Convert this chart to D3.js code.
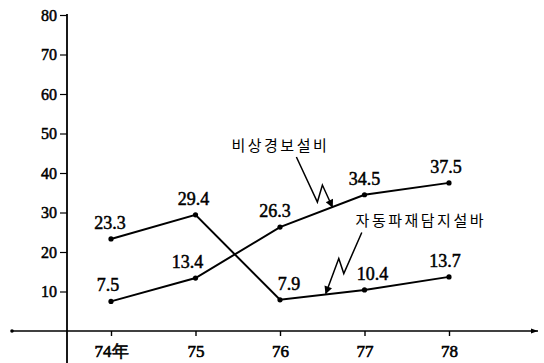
<!DOCTYPE html>
<html>
<head>
<meta charset="utf-8">
<script src="https://cdn.jsdelivr.net/npm/d3@7/dist/d3.min.js"></script>
<style>
  html, body { margin: 0; padding: 0; background: #fff; }
  svg { display: block; }
</style>
</head>
<body>
<svg id="chart" width="544" height="363"></svg>
<script>
// ---- data ----
const years = ["74年", "75", "76", "77", "78"];
const alarmValues = [7.5, 13.4, 26.3, 34.5, 37.5];      // 비상경보설비
const detectValues = [23.3, 29.4, 7.9, 10.4, 13.7];     // 자동화재탐지설비
const yTicks = [10, 20, 30, 40, 50, 60, 70, 80];
const seriesNames = ["비상경보설비", "자동파재담지설바"];

// ---- layout (separate from data) ----
const alarmLabelNudge = [-3, -8, -5, 0, -3];
const detectLabelNudge = [-1, -2, 9, 8, -4];

const svg = d3.select("#chart");
const W = 544, H = 363;
const axisX = 67;

const x = d3.scalePoint().domain(years).range([111, 449]);
const y = d3.scaleLinear().domain([0, 80]).range([331, 15]);

const serif = "'Liberation Serif', 'DejaVu Serif', serif";
const kr = "'Noto Sans CJK KR', 'Noto Sans', sans-serif";

// arrow marker
svg.append("defs").append("marker")
  .attr("id", "ah").attr("viewBox", "0 0 10 10")
  .attr("refX", 9).attr("refY", 5)
  .attr("markerWidth", 10).attr("markerHeight", 8)
  .attr("markerUnits", "userSpaceOnUse")
  .attr("orient", "auto")
  .append("path").attr("d", "M0,0 L10,5 L0,10 Z").attr("fill", "#000");

// ---- x axis line ----
svg.append("line")
  .attr("x1", 12).attr("x2", 538).attr("y1", y(0)).attr("y2", y(0))
  .attr("stroke", "#000").attr("stroke-width", 1.6);
svg.append("circle").attr("cx", 12).attr("cy", y(0)).attr("r", 1.8).attr("fill", "#000");
svg.append("path")
  .attr("d", `M538,${y(0)} l-7,-2.5 l0,5 Z`).attr("fill", "#000");

// ---- y axis line ----
svg.append("line")
  .attr("x1", axisX).attr("x2", axisX).attr("y1", 14).attr("y2", H)
  .attr("stroke", "#000").attr("stroke-width", 1.8);

// y axis ticks
const yAxis = d3.axisLeft(y).tickValues(yTicks).tickSize(7).tickPadding(3)
  .tickFormat(d3.format("d"));
const gy = svg.append("g").attr("transform", `translate(${axisX},0)`).call(yAxis);
gy.attr("font-family", serif).attr("font-size", 16);
gy.select(".domain").remove();
gy.selectAll(".tick line").attr("stroke", "#000").attr("stroke-width", 1.2);
gy.selectAll(".tick text").attr("fill", "#000")
  .attr("stroke", "#000").attr("stroke-width", 0.5);

// x axis ticks
const xAxis = d3.axisBottom(x).tickSize(5).tickPadding(9);
const gx = svg.append("g").attr("transform", `translate(0,${y(0)})`).call(xAxis);
gx.attr("font-family", serif).attr("font-size", 17);
gx.select(".domain").remove();
gx.selectAll(".tick line").attr("stroke", "#000").attr("stroke-width", 1.4);
gx.selectAll(".tick text").attr("fill", "#000")
  .attr("stroke", "#000").attr("stroke-width", 0.6);

// ---- series ----
const fmt = d3.format(".1f");
const line = d3.line().x((d, i) => x(years[i])).y(d => y(d));

function drawSeries(values, nudges) {
  svg.append("path").datum(values)
    .attr("d", line).attr("fill", "none")
    .attr("stroke", "#000").attr("stroke-width", 2);
  svg.append("g").selectAll("circle").data(values).join("circle")
    .attr("cx", (d, i) => x(years[i])).attr("cy", d => y(d))
    .attr("r", 2.6).attr("fill", "#000");
  svg.append("g").selectAll("text").data(values).join("text")
    .attr("x", (d, i) => x(years[i]) + nudges[i])
    .attr("y", d => y(d) - 10)
    .attr("text-anchor", "middle")
    .attr("font-family", serif).attr("font-size", 18)
    .attr("fill", "#000").attr("stroke", "#000").attr("stroke-width", 0.5)
    .text(d => fmt(d));
}
drawSeries(alarmValues, alarmLabelNudge);
drawSeries(detectValues, detectLabelNudge);

// ---- annotations (anchored on the lines) ----
function along(values, i, t) {
  const x0 = x(years[i]), x1 = x(years[i + 1]);
  const y0 = y(values[i]), y1 = y(values[i + 1]);
  return [x0 + (x1 - x0) * t, y0 + (y1 - y0) * t];
}

// 비상경보설비 arrow
const tipA = along(alarmValues, 2, 0.62);
const ptsA = [[-36, -50], [-15, -5], [-10, -22], [0, 0]].map(p => [tipA[0] + p[0], tipA[1] + p[1]]);
svg.append("path")
  .attr("d", d3.line()(ptsA)).attr("fill", "none")
  .attr("stroke", "#000").attr("stroke-width", 1.5)
  .attr("marker-end", "url(#ah)");
svg.append("text")
  .attr("x", ptsA[0][0] - 16).attr("y", ptsA[0][1] - 13)
  .attr("text-anchor", "middle").attr("dominant-baseline", "central")
  .attr("font-family", kr).attr("font-size", 15).attr("letter-spacing", 2.5)
  .attr("fill", "#000")
  .text(seriesNames[0]);

// 자동화재탐지설비 arrow
const tipB = along(detectValues, 2, 0.53);
const ptsB = [[37, -62], [19, -21], [14, -36], [1, -1]].map(p => [tipB[0] + p[0], tipB[1] + p[1]]);
svg.append("path")
  .attr("d", d3.line()(ptsB)).attr("fill", "none")
  .attr("stroke", "#000").attr("stroke-width", 1.5)
  .attr("marker-end", "url(#ah)");
svg.append("text")
  .attr("x", ptsB[0][0] + 59).attr("y", ptsB[0][1] - 13)
  .attr("text-anchor", "middle").attr("dominant-baseline", "central")
  .attr("font-family", kr).attr("font-size", 15).attr("letter-spacing", 2.5)
  .attr("fill", "#000")
  .text(seriesNames[1]);
</script>
</body>
</html>
